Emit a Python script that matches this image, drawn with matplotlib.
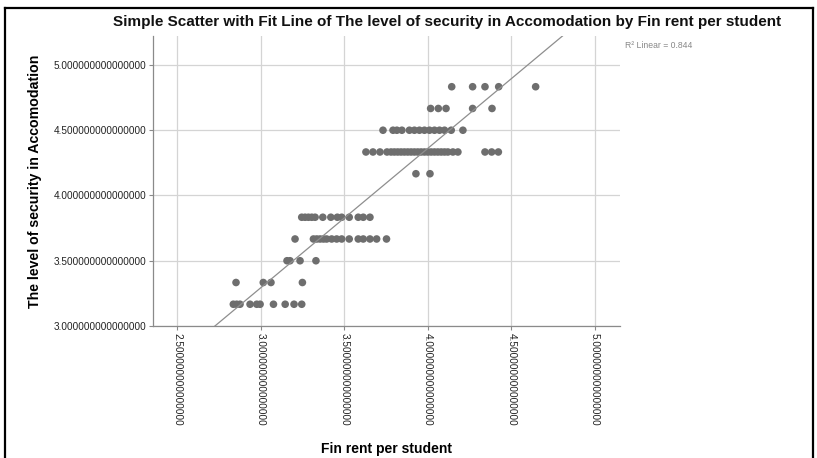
import numpy as np
import matplotlib
matplotlib.use("Agg")
import matplotlib.pyplot as plt
from matplotlib.lines import Line2D

# ---- data ----
rent_316 = [2.837, 2.857, 2.877, 2.937, 2.977, 2.997, 3.077, 3.147, 3.200, 3.246]
rent_333 = [2.853, 3.016, 3.062, 3.250]
rent_350 = [3.158, 3.176, 3.236, 3.331]
rent_366 = [3.206, 3.316, 3.336, 3.356, 3.376, 3.395, 3.425, 3.455, 3.485,
            3.530, 3.584, 3.614, 3.654, 3.694, 3.753]
rent_383 = [3.246, 3.266, 3.286, 3.306, 3.326, 3.372, 3.420, 3.459, 3.485,
            3.530, 3.584, 3.614, 3.654]
rent_416 = [3.929, 4.013]
rent_433 = [3.630, 3.672, 3.714, 3.756, 3.780, 3.800, 3.820, 3.840, 3.860,
            3.880, 3.900, 3.920, 3.940, 3.960, 3.980, 4.000, 4.020, 4.040,
            4.060, 4.080, 4.100, 4.120, 4.150, 4.180, 4.342, 4.382, 4.422]
rent_450 = [3.732, 3.792, 3.815, 3.845, 3.890, 3.920, 3.950, 3.980, 4.010,
            4.040, 4.070, 4.100, 4.140, 4.210]
rent_466 = [4.017, 4.063, 4.109, 4.268, 4.384]
rent_483 = [4.143, 4.268, 4.342, 4.424, 4.645]

security_levels = [3.1667, 3.3333, 3.5, 3.6667, 3.8333, 4.1667, 4.3333, 4.5, 4.6667, 4.8333]
rent_rows = [rent_316, rent_333, rent_350, rent_366, rent_383,
             rent_416, rent_433, rent_450, rent_466, rent_483]

fit_intercept = 0.085
fit_slope = 1.069
r_squared = 0.844

x_ticks = [2.5, 3.0, 3.5, 4.0, 4.5, 5.0]
y_ticks = [3.0, 3.5, 4.0, 4.5, 5.0]

title = "Simple Scatter with Fit Line of The level of security in Accomodation by Fin rent per student"
x_label = "Fin rent per student"
y_label = "The level of security in Accomodation"

# ---- build arrays ----
xs = np.concatenate([np.array(r) for r in rent_rows])
ys = np.concatenate([np.full(len(r), lvl) for r, lvl in zip(rent_rows, security_levels)])

plt.rcParams['font.family'] = ['Liberation Sans', 'DejaVu Sans']

W, H = 817, 458
fig = plt.figure(figsize=(W / 100, H / 100), dpi=100)
fig.patch.set_facecolor("white")

ax = fig.add_axes([153 / W, 1 - 326 / H, (620 - 153) / W, (326 - 36) / H])
ax.set_xlim(2.3565, 5.1495)
ax.set_ylim(3.0, 5.222)

grid_c = "#d4d4d4"
for xt in x_ticks:
    ax.axvline(xt, color=grid_c, lw=0.9, zorder=0)
for yt in y_ticks:
    ax.axhline(yt, color=grid_c, lw=0.9, zorder=0)

ax.scatter(xs, ys, s=30, color="#6e6e6e", edgecolors="none", zorder=3)

xl = np.array(ax.get_xlim())
ax.plot(xl, fit_intercept + fit_slope * xl, color="#8e8e8e", lw=0.9, zorder=4)

for s in ["top", "right"]:
    ax.spines[s].set_visible(False)
for s in ["left", "bottom"]:
    ax.spines[s].set_color("#8a8a8a")
    ax.spines[s].set_linewidth(0.9)

ax.set_xticks(x_ticks)
ax.set_yticks(y_ticks)
ax.set_xticklabels([f"{v:.15f}" for v in x_ticks], rotation=270, fontsize=7.2, color="#222222")
ax.set_yticklabels([f"{v:.15f}" for v in y_ticks], fontsize=7.2, color="#222222")
ax.tick_params(axis="both", length=3, width=0.8, color="#8a8a8a", pad=2)

ax.set_xlabel(x_label, fontsize=10, fontweight="bold", labelpad=12)
ax.set_ylabel(y_label, fontsize=10.2, fontweight="bold", labelpad=8)

fig.text(447 / W, 1 - 22 / H, title, ha="center", va="center",
         fontsize=11, fontweight="bold", color="#111111")
fig.text(625 / W, 1 - 45 / H, f"R\u00b2 Linear = {r_squared:.3f}", ha="left", va="center",
         fontsize=6.2, color="#888888")

# outer frame
fx0, fx1 = 5 / W, 813 / W
fy1 = 1 - 8 / H
fig.add_artist(Line2D([fx0, fx0], [0, fy1], color="black", lw=1.6, transform=fig.transFigure))
fig.add_artist(Line2D([fx0, fx1], [fy1, fy1], color="black", lw=1.6, transform=fig.transFigure))
fig.add_artist(Line2D([fx1, fx1], [0, fy1], color="black", lw=1.6, transform=fig.transFigure))

fig.savefig("out.png", dpi=100)
